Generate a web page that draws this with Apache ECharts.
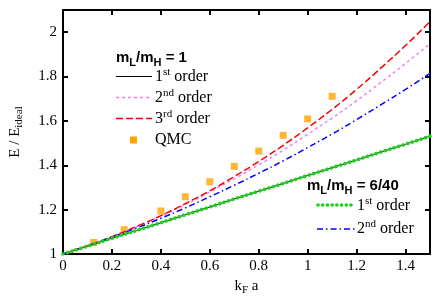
<!DOCTYPE html>
<html><head><meta charset="utf-8">
<script src="https://cdn.jsdelivr.net/npm/echarts@6/dist/echarts.min.js"></script>
<style>html,body{margin:0;padding:0;background:#fff}#c{width:436px;height:305px}</style>
</head><body><div id="c"></div>
<script>
var kfa = [0,0.1,0.2,0.3,0.4,0.5,0.6,0.7,0.8,0.9,1.0,1.1,1.2,1.3,1.4,1.5];
var eq1_first  = [1,1.035,1.071,1.106,1.141,1.177,1.212,1.248,1.283,1.318,1.354,1.389,1.424,1.460,1.495,1.531];
var eq1_second = [1,1.037,1.078,1.123,1.171,1.223,1.279,1.339,1.402,1.468,1.540,1.613,1.691,1.774,1.859,1.948];
var eq1_third  = [1,1.037,1.078,1.124,1.173,1.227,1.285,1.349,1.417,1.490,1.569,1.652,1.742,1.839,1.940,2.048];
var r640_first = [1,1.035,1.071,1.106,1.141,1.177,1.212,1.248,1.283,1.318,1.354,1.389,1.424,1.460,1.495,1.531];
var r640_second= [1,1.037,1.076,1.117,1.161,1.208,1.258,1.310,1.364,1.420,1.480,1.541,1.606,1.673,1.742,1.814];
var qmcX = [0.125,0.25,0.4,0.5,0.6,0.7,0.8,0.9,1.0,1.1];
var qmcY = [1.052,1.110,1.194,1.258,1.326,1.395,1.464,1.535,1.609,1.711];
var xTicks = [0,0.2,0.4,0.6,0.8,1,1.2,1.4];
var yTicks = [1,1.2,1.4,1.6,1.8,2];

function pairs(xs, ys){ return xs.map(function(x,i){return [x, ys[i]];}); }
var serif = 'Liberation Serif';
var sans = 'Liberation Sans';
function fmt(list){ return function(v){ for (var i=0;i<list.length;i++){ if (Math.abs(list[i]-v)<1e-6) return String(list[i]); } return ''; }; }

var chart = echarts.init(document.getElementById('c'), null, {renderer:'canvas'});
var axisBase = {
  axisLine:{show:true, onZero:false, lineStyle:{color:'#000', width:2}},
  axisTick:{show:true, inside:true, length:5, lineStyle:{color:'#000', width:2}},
  splitLine:{show:false}
};
var rich = {
  a:{fontFamily:serif, fontSize:16, color:'#000'},
  sup:{fontFamily:serif, fontSize:11, color:'#000', verticalAlign:'top', padding:[0,0,9,0]},
  t:{fontFamily:sans, fontSize:15, fontWeight:'bold', color:'#000'},
  tsub:{fontFamily:sans, fontSize:11, fontWeight:'bold', color:'#000', padding:[9,0,0,0]}
};
function legendText(x, y, str){
  return {type:'text', x:x, y:y, style:{text:str, rich:rich, fill:'#000', verticalAlign:'middle'}, z:100};
}
function legendLine(x1, x2, y, style){
  return {type:'line', shape:{x1:x1,y1:y,x2:x2,y2:y}, style:style, z:100};
}
var green = '#1ed01e';
var option = {
  animation:false,
  grid:{left:61, right:6, top:10, bottom:51},
  xAxis:[
    Object.assign({type:'value', min:0, max:1.5, interval:0.2, position:'bottom',
      name:'{a|k}{s|F}{a| a}', nameLocation:'middle', nameGap:22,
      nameTextStyle:{rich:{a:{fontFamily:serif,fontSize:15,color:'#000'}, s:{fontFamily:serif,fontSize:11,color:'#000',padding:[8,0,0,0]}}},
      axisLabel:{fontFamily:serif, fontSize:15, color:'#000', margin:5, formatter:fmt(xTicks), showMaxLabel:false}
    }, axisBase),
    Object.assign({type:'value', min:0, max:1.5, interval:0.2, position:'top', axisLabel:{show:false}}, axisBase)
  ],
  yAxis:[
    Object.assign({type:'value', min:1, max:2.1, interval:0.2, position:'left',
      name:'{a|E / E}{s|ideal}', nameLocation:'middle', nameGap:38, nameRotate:90,
      nameTextStyle:{rich:{a:{fontFamily:serif,fontSize:15,color:'#000'}, s:{fontFamily:serif,fontSize:11,color:'#000',padding:[8,0,0,0]}}},
      axisLabel:{fontFamily:serif, fontSize:15, color:'#000', margin:6, formatter:fmt(yTicks), showMaxLabel:false}
    }, axisBase),
    Object.assign({type:'value', min:1, max:2.1, interval:0.2, position:'right', axisLabel:{show:false}}, axisBase)
  ],
  series:[
    {type:'line', name:'1st order', data:pairs(kfa, eq1_first), smooth:true, symbol:'none',
      lineStyle:{color:'#000', width:1}},
    {type:'line', name:'2nd order', data:pairs(kfa, eq1_second), smooth:true, symbol:'none',
      lineStyle:{color:'#ee82ee', width:1.5, type:[3,3]}},
    {type:'line', name:'3rd order', data:pairs(kfa, eq1_third), smooth:true, symbol:'none',
      lineStyle:{color:'#ff0000', width:1.5, type:[7,3]}},
    {type:'line', name:'6/40 2nd order', data:pairs(kfa, r640_second), smooth:true, symbol:'none',
      lineStyle:{color:'#0000ff', width:1.5, type:[6,3,1.5,3]}},
    {type:'line', name:'6/40 1st order', data:pairs(kfa, r640_first), smooth:true, symbol:'none',
      lineStyle:{color:green, width:3.6, type:[0.1,4.6], cap:'round'}},
    {type:'scatter', name:'QMC', data:pairs(qmcX, qmcY), symbol:'rect', symbolSize:7,
      itemStyle:{color:'#ffa500'}}
  ],
  graphic:[
    legendText(116, 58, '{t|m}{tsub|L}{t|/m}{tsub|H}{t| = 1}'),
    legendLine(116, 152, 76.5, {stroke:'#000', lineWidth:1}),
    legendText(155, 77, '{a|1}{sup|st}{a| order}'),
    legendLine(116, 152, 97.5, {stroke:'#ee82ee', lineWidth:1.5, lineDash:[3,3]}),
    legendText(155, 98, '{a|2}{sup|nd}{a| order}'),
    legendLine(116, 152, 118.5, {stroke:'#ff0000', lineWidth:1.5, lineDash:[7,3]}),
    legendText(155, 119, '{a|3}{sup|rd}{a| order}'),
    {type:'rect', shape:{x:130, y:136.5, width:7, height:7}, style:{fill:'#ffa500'}, z:100},
    legendText(155, 140, '{a|QMC}'),
    legendText(307, 186, '{t|m}{tsub|L}{t|/m}{tsub|H}{t| = 6/40}'),
    legendLine(318, 354, 205, {stroke:green, lineWidth:3.6, lineDash:[0.1,4.6], lineCap:'round'}),
    legendText(357, 206, '{a|1}{sup|st}{a| order}'),
    legendLine(317, 355, 229, {stroke:'#0000ff', lineWidth:1.5, lineDash:[6,3,1.5,3]}),
    legendText(357, 229, '{a|2}{sup|nd}{a| order}')
  ]
};
chart.setOption(option);
</script></body></html>
